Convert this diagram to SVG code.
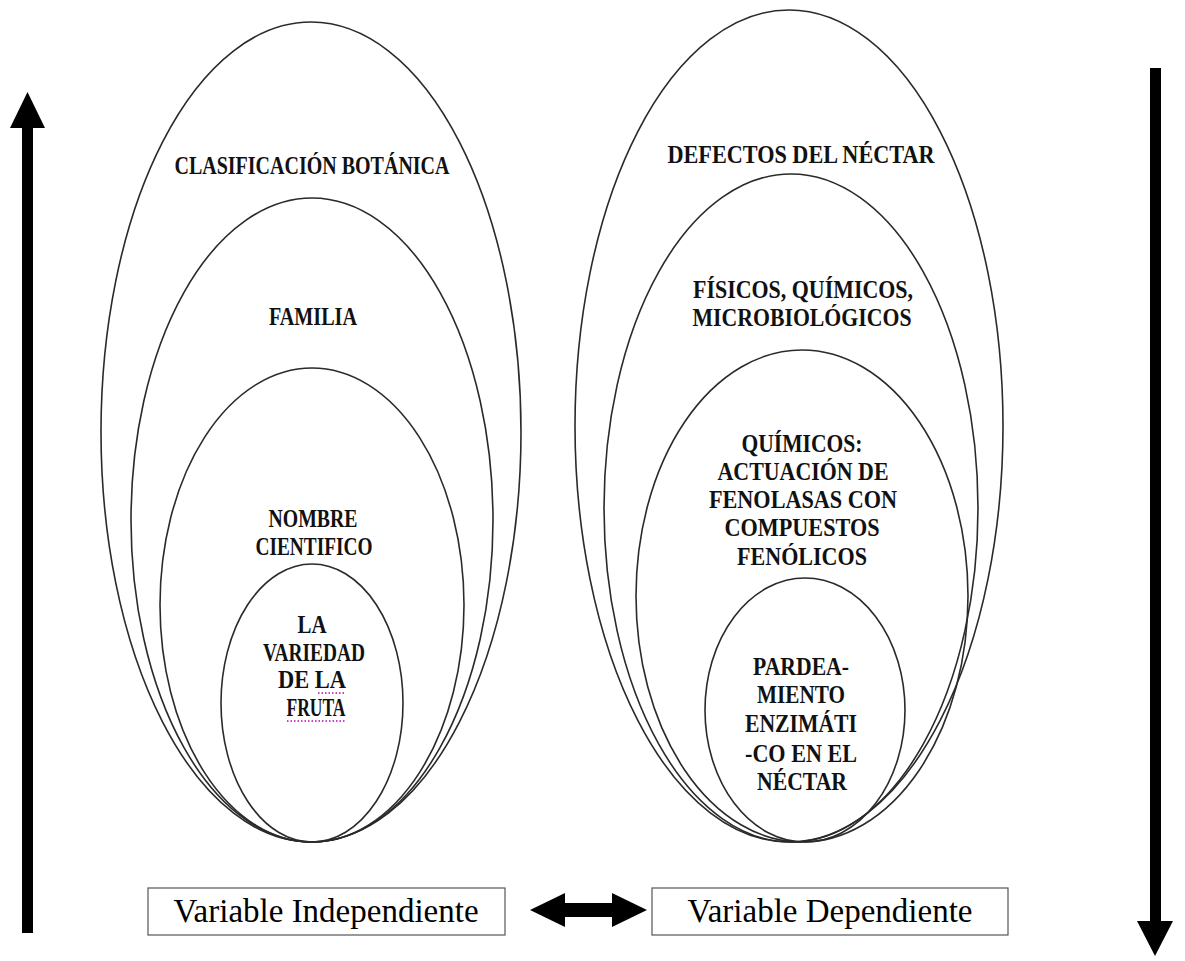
<svg xmlns="http://www.w3.org/2000/svg" width="1185" height="961" viewBox="0 0 1185 961">
  <style>
    .ring { fill: none; stroke: #2a2a2a; stroke-width: 1.6; }
    .lbl { font-family: "Liberation Serif", "Times New Roman", serif; font-weight: bold; font-size: 25px; fill: #111; text-anchor: middle; }
    .box { fill: #fff; stroke: #555; stroke-width: 1.2; }
    .boxtxt { font-family: "Liberation Serif", "Times New Roman", serif; font-size: 33px; fill: #000; text-anchor: middle; }
    .solid { fill: #000; stroke: none; }
    .spell { stroke: #c000c0; stroke-width: 1.5; stroke-dasharray: 1.5 2; fill: none; }
  </style>
  <rect width="1185" height="961" fill="#fff"/>

  <!-- left nest: botanical classification -->
  <g id="clasificacion">
    <ellipse class="ring" cx="311" cy="432" rx="210" ry="410"/>
    <text class="lbl" x="312" y="174" textLength="275" lengthAdjust="spacingAndGlyphs">CLASIFICACIÓN BOTÁNICA</text>
  </g>
  <g id="familia">
    <ellipse class="ring" cx="312" cy="520" rx="181" ry="322"/>
    <text class="lbl" x="313" y="325" textLength="88" lengthAdjust="spacingAndGlyphs">FAMILIA</text>
  </g>
  <g id="nombre-cientifico">
    <ellipse class="ring" cx="312" cy="605" rx="152" ry="237"/>
    <text class="lbl" x="313" y="527" textLength="89" lengthAdjust="spacingAndGlyphs">NOMBRE</text>
    <text class="lbl" x="314" y="555" textLength="117" lengthAdjust="spacingAndGlyphs">CIENTIFICO</text>
  </g>
  <g id="variedad">
    <ellipse class="ring" cx="312" cy="703" rx="91" ry="139"/>
    <text class="lbl" x="312" y="633" textLength="29" lengthAdjust="spacingAndGlyphs">LA</text>
    <text class="lbl" x="314" y="661" textLength="102" lengthAdjust="spacingAndGlyphs">VARIEDAD</text>
    <text class="lbl" x="312" y="688" textLength="68" lengthAdjust="spacingAndGlyphs">DE LA</text>
    <text class="lbl" x="316" y="716" textLength="59" lengthAdjust="spacingAndGlyphs">FRUTA</text>
    <line class="spell" x1="318" y1="693" x2="346" y2="693"/>
    <line class="spell" x1="287" y1="721" x2="346" y2="721"/>
  </g>

  <!-- right nest: nectar defects -->
  <g id="defectos">
    <ellipse class="ring" cx="789" cy="426" rx="214" ry="416"/>
    <text class="lbl" x="801" y="163" textLength="267" lengthAdjust="spacingAndGlyphs">DEFECTOS DEL NÉCTAR</text>
  </g>
  <g id="tipos-defecto">
    <ellipse class="ring" cx="791" cy="508" rx="187" ry="334"/>
    <text class="lbl" x="803" y="298" textLength="220" lengthAdjust="spacingAndGlyphs">FÍSICOS, QUÍMICOS,</text>
    <text class="lbl" x="802" y="326" textLength="219" lengthAdjust="spacingAndGlyphs">MICROBIOLÓGICOS</text>
  </g>
  <g id="quimicos">
    <ellipse class="ring" cx="802" cy="596" rx="166" ry="246"/>
    <text class="lbl" x="802" y="452" textLength="121" lengthAdjust="spacingAndGlyphs">QUÍMICOS:</text>
    <text class="lbl" x="803" y="480" textLength="171" lengthAdjust="spacingAndGlyphs">ACTUACIÓN DE</text>
    <text class="lbl" x="803" y="508" textLength="188" lengthAdjust="spacingAndGlyphs">FENOLASAS CON</text>
    <text class="lbl" x="802" y="536" textLength="155" lengthAdjust="spacingAndGlyphs">COMPUESTOS</text>
    <text class="lbl" x="802" y="565" textLength="130" lengthAdjust="spacingAndGlyphs">FENÓLICOS</text>
  </g>
  <g id="pardeamiento">
    <ellipse class="ring" cx="805" cy="710" rx="100" ry="132"/>
    <text class="lbl" x="801" y="675" textLength="96" lengthAdjust="spacingAndGlyphs">PARDEA-</text>
    <text class="lbl" x="801" y="703" textLength="88" lengthAdjust="spacingAndGlyphs">MIENTO</text>
    <text class="lbl" x="801" y="732" textLength="112" lengthAdjust="spacingAndGlyphs">ENZIMÁTI</text>
    <text class="lbl" x="801" y="762" textLength="112" lengthAdjust="spacingAndGlyphs">-CO EN EL</text>
    <text class="lbl" x="802" y="790" textLength="90" lengthAdjust="spacingAndGlyphs">NÉCTAR</text>
  </g>

  <!-- variable boxes -->
  <g id="var-independiente">
    <rect class="box" x="148" y="888" width="357" height="47"/>
    <text class="boxtxt" x="326" y="922">Variable Independiente</text>
  </g>
  <g id="var-dependiente">
    <rect class="box" x="652" y="888" width="356" height="47"/>
    <text class="boxtxt" x="830" y="922">Variable Dependiente</text>
  </g>

  <!-- connectors -->
  <g id="connectors">
    <!-- upward arrow on the left -->
    <rect class="solid" x="22" y="126" width="11" height="807"/>
    <polygon class="solid" points="27.5,92 10,128 45,128"/>
    <!-- downward arrow on the right -->
    <rect class="solid" x="1150" y="68" width="11" height="855"/>
    <polygon class="solid" points="1137,921 1173,921 1155,956"/>
    <!-- two-way arrow between the boxes -->
    <polygon class="solid" points="530,910 565,893 565,903 612,903 612,893 647,910 612,927 612,917 565,917 565,927"/>
  </g>
</svg>
